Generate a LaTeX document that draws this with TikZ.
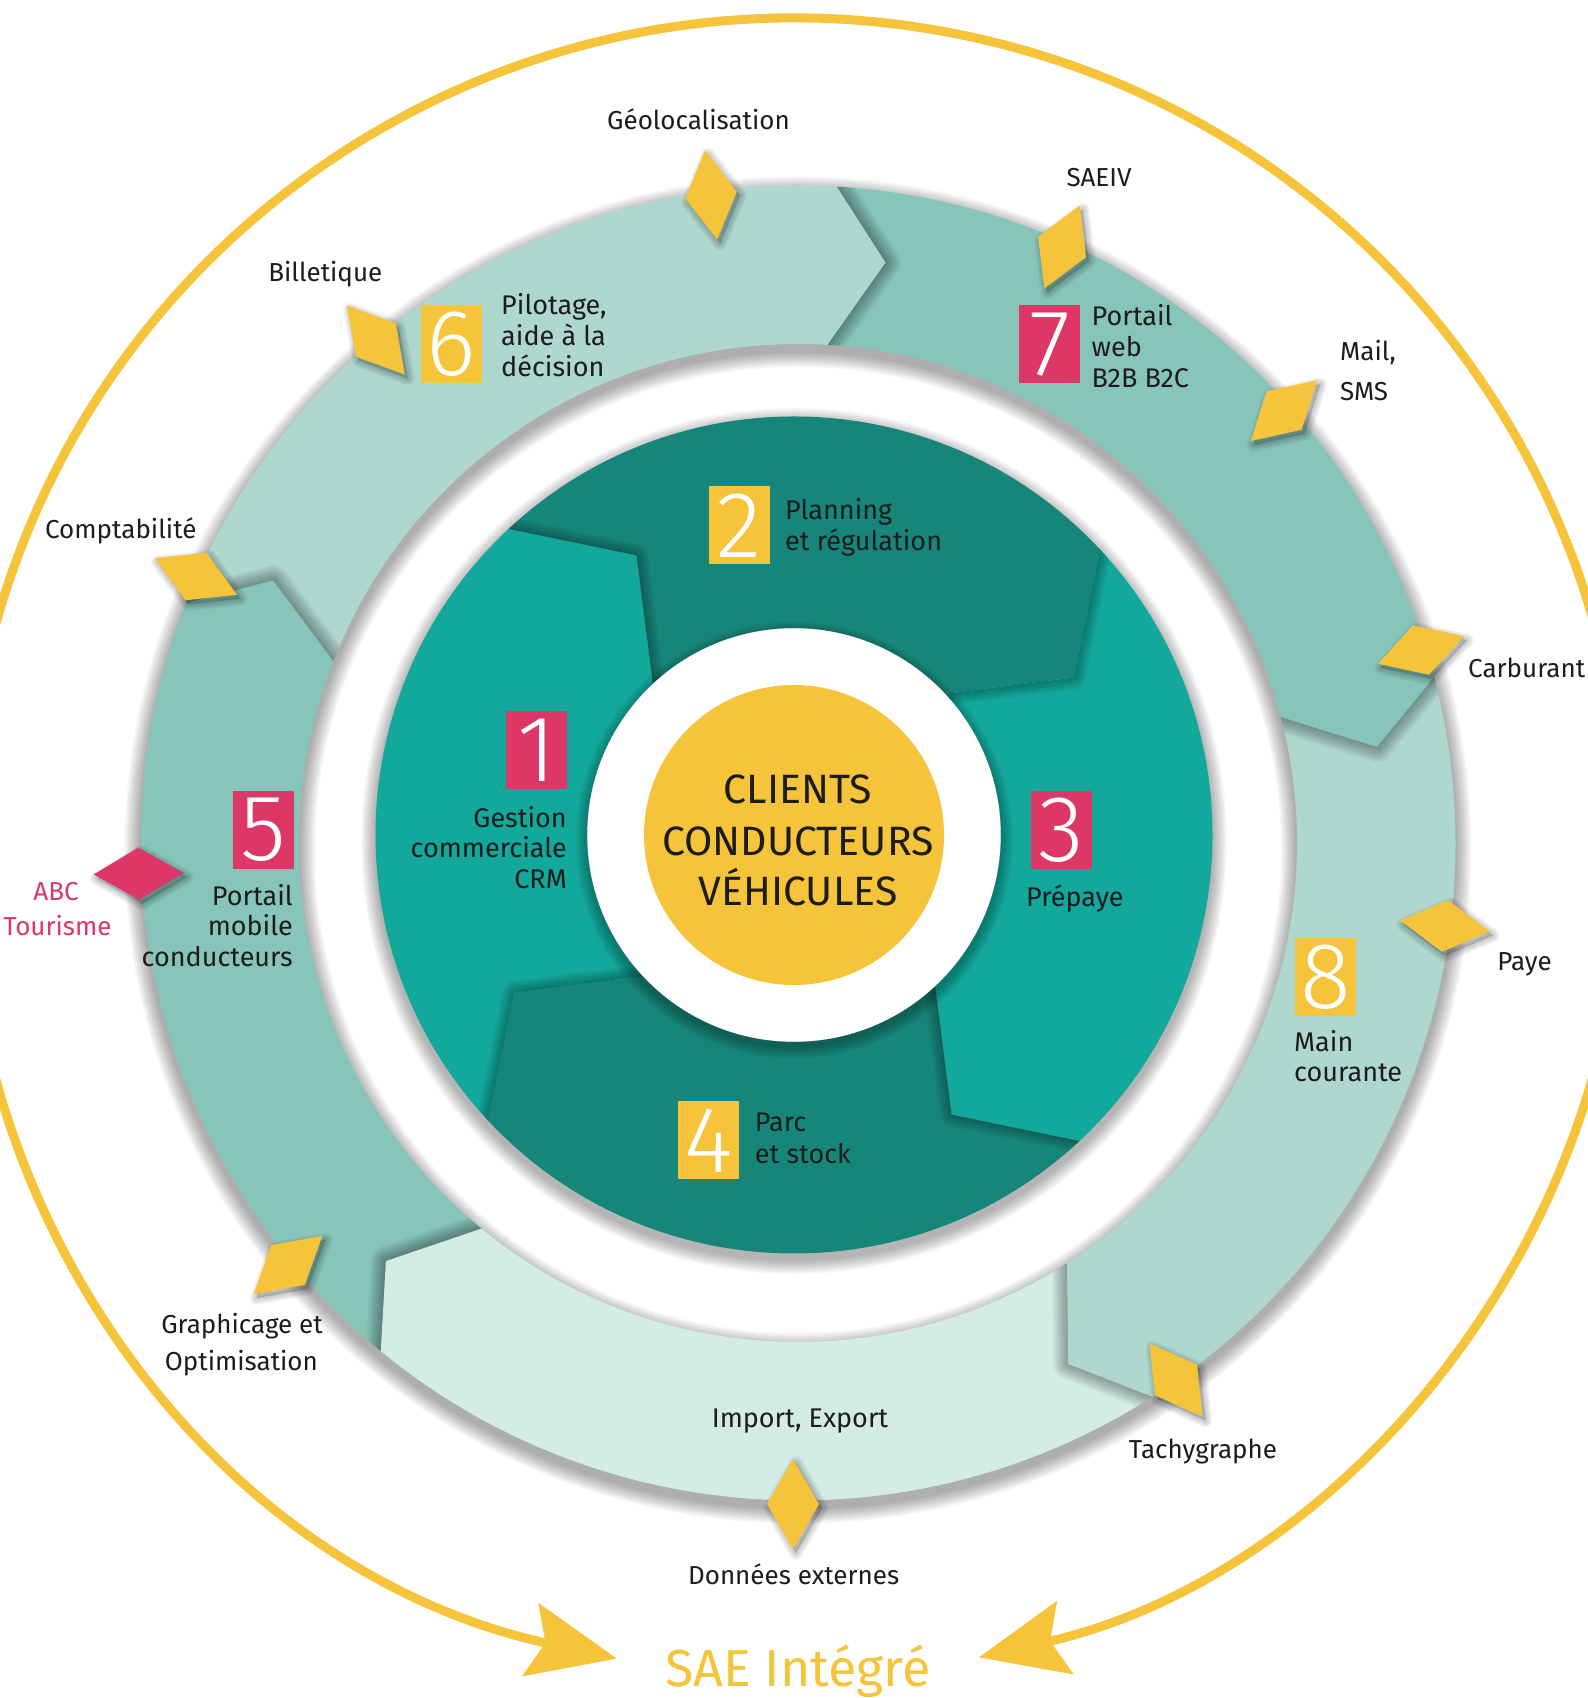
\documentclass[tikz,border=0pt]{standalone}
\usepackage{fontspec}
\setmainfont{Fira Sans}
\newfontfamily\numfont{Fira Sans Light}
\usetikzlibrary{arrows.meta,calc}
\definecolor{ylw}{HTML}{F6C43A}
\definecolor{mag}{HTML}{DC3766}
\definecolor{tdark}{HTML}{17867A}
\definecolor{tbright}{HTML}{12A89B}
\definecolor{rmed}{HTML}{87C4BA}
\definecolor{rlight}{HTML}{AED7CE}
\definecolor{rpale}{HTML}{D3ECE6}
\definecolor{ink}{HTML}{1C1C1C}
\tikzset{
  numbox/.style={minimum width=61pt, minimum height=78pt, inner sep=0pt, text=white, font=\numfont\fontsize{94}{94}\selectfont},
  inlbl/.style={text=ink, inner sep=0pt, font=\fontsize{27}{30}\selectfont},
  outlbl/.style={text=ink, inner sep=0pt, font=\fontsize{26}{30}\selectfont},
  maglbl/.style={text=mag, inner sep=0pt, font=\fontsize{26}{30}\selectfont},
  centerlbl/.style={text=ink, inner sep=0pt, font=\fontsize{41}{50}\selectfont},
  softshade/.style={black, opacity=0.035},
  bigarrow/.style={ylw, line width=9pt, {Stealth[length=88pt,width=74pt,inset=15pt]}-{Stealth[length=88pt,width=74pt,inset=15pt]}},
}
\newcommand{\ydiam}[4]{%
  \begin{scope}[shift={(#1+3,#2-4)}, rotate=#3]
    \foreach \w in {2,4,...,14}
      \filldraw[black, fill opacity=0.025, draw opacity=0.03, line width=\w pt, line join=round] (45,0) -- (0,26) -- (-45,0) -- (0,-26) -- cycle;
  \end{scope}
  \fill[#4, shift={(#1,#2)}, rotate=#3] (45,0) -- (0,26) -- (-45,0) -- (0,-26) -- cycle;
}
\begin{document}
\begin{tikzpicture}[x=1pt, y=1pt]
\useasboundingbox (0,0) rectangle (1588,1698);
\fill[white] (0,0) rectangle (1588,1698);

% big yellow arc with two arrows
\draw[bigarrow] ([shift={(795,850)}]257.6:830) arc[start angle=257.6, end angle=-77.2, radius=830];
\node[text=ylw, inner sep=0pt, font=\fontsize{52}{52}\selectfont, anchor=base] (sae) at (798,12) {SAE Intégré};

% outer ring
\begin{scope}[shift={(798,855)}]
  \foreach \i in {1,...,10}
    \fill[softshade, even odd rule] (0,-7) circle ({657.5+1.6*\i}) (0,-7) circle ({499-1.6*\i});
  \foreach \ta/\tb/\col in {230.6/158.6/rmed, 158.6/86.6/rlight, 86.6/14.6/rmed, 14.6/-57.4/rlight, -57.4/-129.4/rpale}
    \fill[\col] (\ta:657.5) arc[start angle=\ta, end angle=\tb, radius=657.5] -- ({\tb-5.2}:587) -- (\tb:499) arc[start angle=\tb, end angle=\ta, radius=499] -- ({\ta-5.2}:587) -- cycle;
  \foreach \ta/\tb in {158.6/86.6, 86.6/14.6, 14.6/-57.4, -57.4/-129.4, -129.4/-201.4} {
    \begin{scope}
      \clip (\ta:657.5) arc[start angle=\ta, end angle=\tb, radius=657.5] -- ({\tb-5.2}:587) -- (\tb:499) arc[start angle=\tb, end angle=\ta, radius=499] -- ({\ta-5.2}:587) -- cycle;
      \coordinate (T) at ({\ta-5.2}:587);
      \coordinate (A) at (\ta:657.5);
      \coordinate (B) at (\ta:499);
      \foreach \w in {3,6,...,30}
        \draw[softshade, line width=\w pt, line join=round] ($(T)!1.6!(A)$) -- (T) -- ($(T)!1.6!(B)$);
    \end{scope}
  }
\end{scope}

% inner disc
\begin{scope}[shift={(794,863)}]
  \foreach \i in {1,...,9}
    \fill[softshade] (0,-6) circle ({418.5+1.6*\i});
  \foreach \ta/\tb/\col in {223/133/tbright, 133/43/tdark, 43/-47/tbright, -47/-137/tdark}
    \fill[\col] (\ta:418.5) arc[start angle=\ta, end angle=\tb, radius=418.5] -- ({\tb-13.6}:321) -- (\tb:207) arc[start angle=\tb, end angle=\ta, radius=207] -- ({\ta-13.6}:321) -- cycle;
  \foreach \ta/\tb in {133/43, 43/-47, -47/-137, -137/-227} {
    \begin{scope}
      \clip (\ta:418.5) arc[start angle=\ta, end angle=\tb, radius=418.5] -- ({\tb-13.6}:321) -- (\tb:207) arc[start angle=\tb, end angle=\ta, radius=207] -- ({\ta-13.6}:321) -- cycle;
      \coordinate (T) at ({\ta-13.6}:321);
      \coordinate (A) at (\ta:418.5);
      \coordinate (B) at (\ta:207);
      \foreach \w in {3,6,...,24}
        \draw[softshade, line width=\w pt, line join=round] ($(T)!1.6!(A)$) -- (T) -- ($(T)!1.6!(B)$);
    \end{scope}
  }
  \foreach \i in {1,...,8}
    \fill[softshade] (0,-5) circle ({206.7+1.5*\i});
  \fill[white] (0,0) circle (206.7);
  \fill[ylw] (0,0) circle (150);
\end{scope}

% center text
\node[centerlbl, anchor=base] (c1) at (798,894.4) {CLIENTS};
\node[centerlbl, anchor=base] (c2) at (798,842.8) {CONDUCTEURS};
\node[centerlbl, anchor=base] (c3) at (798,792.8) {VÉHICULES};

% diamonds
\ydiam{711}{1503}{97.8}{ylw}
\ydiam{1062}{1451}{67}{ylw}
\ydiam{1284}{1287.4}{42.5}{ylw}
\ydiam{1421}{1048}{17.8}{ylw}
\ydiam{1445}{772}{-7}{ylw}
\ydiam{1176}{318}{-54}{ylw}
\ydiam{793}{194}{-90}{ylw}
\ydiam{288}{433}{-139.7}{ylw}
\ydiam{138.7}{824.3}{181}{mag}
\ydiam{196}{1121.5}{156}{ylw}
\ydiam{375.8}{1358}{130}{ylw}

% number boxes
\node[numbox, fill=mag] (n1) at (536.5,948) {1};
\node[numbox, fill=ylw] (n2) at (739.5,1172.5) {2};
\node[numbox, fill=mag] (n3) at (1061,867.5) {3};
\node[numbox, fill=ylw] (n4) at (708.5,557.7) {4};
\node[numbox, fill=mag] (n5) at (263.3,867.8) {5};
\node[numbox, fill=ylw] (n6) at (451.4,1353.8) {6};
\node[numbox, fill=mag] (n7) at (1049.8,1353.7) {7};
\node[numbox, fill=ylw] (n8) at (1325.7,721.2) {8};

% inner labels
\node[inlbl, anchor=base east] (l1a) at (567,870.3) {Gestion};
\node[inlbl, anchor=base east] (l1b) at (567,840.5) {commerciale};
\node[inlbl, anchor=base east] (l1c) at (567,809) {CRM};
\node[inlbl, anchor=base west] (l2a) at (785,1178.6) {Planning};
\node[inlbl, anchor=base west] (l2b) at (785,1147.6) {et régulation};
\node[inlbl, anchor=base west] (l3a) at (1026,791.7) {Prépaye};
\node[inlbl, anchor=base west] (l4a) at (754.7,566.1) {Parc};
\node[inlbl, anchor=base west] (l4b) at (754.7,534.5) {et stock};

% ring labels
\node[inlbl, anchor=base west] (l6a) at (501,1383) {Pilotage,};
\node[inlbl, anchor=base west] (l6b) at (501,1352) {aide à la};
\node[inlbl, anchor=base west] (l6c) at (501,1321.3) {décision};
\node[inlbl, anchor=base west] (l7a) at (1091.5,1372) {Portail};
\node[inlbl, anchor=base west] (l7b) at (1091.5,1341.3) {web};
\node[inlbl, anchor=base west] (l7c) at (1091.5,1310.7) {B2B B2C};
\node[inlbl, anchor=base east] (l5a) at (293,792.6) {Portail};
\node[inlbl, anchor=base east] (l5b) at (293,762) {mobile};
\node[inlbl, anchor=base east] (l5c) at (293,731.4) {conducteurs};
\node[inlbl, anchor=base west] (l8a) at (1294,646.5) {Main};
\node[inlbl, anchor=base west] (l8b) at (1294,616) {courante};
\node[inlbl, anchor=base] (lie) at (800,270) {Import, Export};

% outside labels
\node[outlbl, anchor=base] (geo) at (698.5,1568.7) {Géolocalisation};
\node[outlbl, anchor=base] (saeiv) at (1099,1511.6) {SAEIV};
\node[outlbl, anchor=base west] (mail) at (1340,1337.5) {Mail,};
\node[outlbl, anchor=base west] (sms) at (1340,1297.3) {SMS};
\node[outlbl, anchor=base west] (carb) at (1468,1020.5) {Carburant};
\node[outlbl, anchor=base] (paye) at (1524.6,727) {Paye};
\node[outlbl, anchor=base] (tachy) at (1203,239.5) {Tachygraphe};
\node[outlbl, anchor=base] (donnees) at (793.6,113.6) {Données externes};
\node[outlbl, anchor=base] (graph) at (242,364.6) {Graphicage et};
\node[outlbl, anchor=base] (optim) at (241.4,327.2) {Optimisation};
\node[maglbl, anchor=base] (abc) at (56,797.6) {ABC};
\node[maglbl, anchor=base] (tour) at (57.4,762) {Tourisme};
\node[outlbl, anchor=base] (compta) at (120.8,1159.2) {Comptabilité};
\node[outlbl, anchor=base] (billet) at (325.3,1416.3) {Billetique};
\end{tikzpicture}
\end{document}
